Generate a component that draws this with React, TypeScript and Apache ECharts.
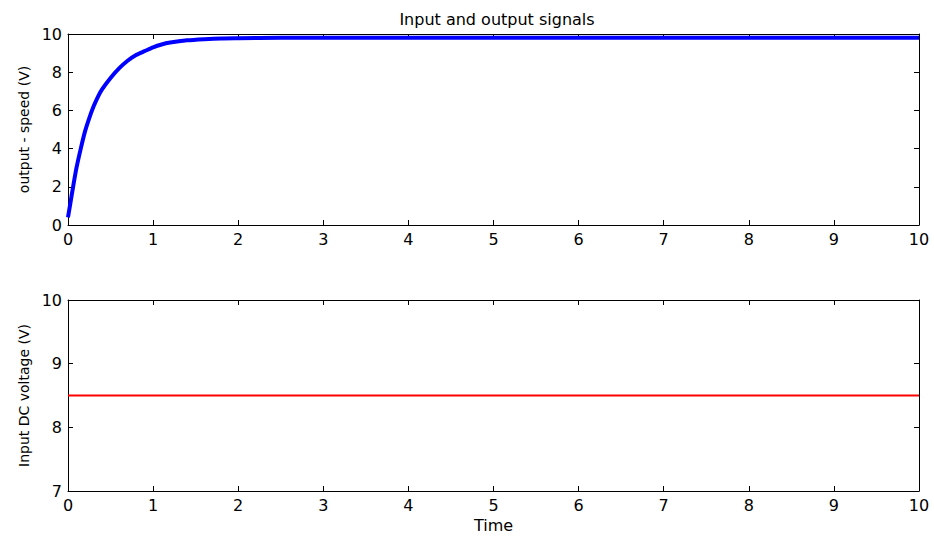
import React, { useEffect, useRef } from "react";
import * as echarts from "echarts";

const timeTicks = [0, 1, 2, 3, 4, 5, 6, 7, 8, 9, 10];
const speedTimes = [0, 0.03, 0.06, 0.1, 0.15, 0.2, 0.25, 0.3, 0.35, 0.4, 0.5, 0.6, 0.7, 0.8, 0.9, 1.0, 1.1, 1.2, 1.4, 1.6, 1.8, 2.0, 2.5, 3, 4, 5, 6, 7, 8, 9, 10];
const speedValues = [0.4, 1.2, 2.0, 3.0, 4.0, 4.9, 5.6, 6.2, 6.7, 7.1, 7.7, 8.2, 8.6, 8.9, 9.1, 9.3, 9.45, 9.55, 9.67, 9.73, 9.77, 9.78, 9.8, 9.8, 9.8, 9.8, 9.8, 9.8, 9.8, 9.8, 9.8];
const inputTimes = [0, 10];
const inputValues = [8.5, 8.5];

const FONT = "DejaVu Sans, Verdana, sans-serif";

export default function App() {
  const ref = useRef<HTMLDivElement>(null);
  useEffect(() => {
    if (!ref.current) return;
    const chart = echarts.init(ref.current, null, { renderer: "svg" });
    const axisLine = { show: true, onZero: false, lineStyle: { color: "#000", width: 1 } };
    const tick = { show: true, inside: true, length: 5, lineStyle: { color: "#000" } };
    const lbl = { color: "#000", fontSize: 16, fontFamily: FONT };
    const mkX = (gi: number, pos: "bottom" | "top", show: boolean) => ({
      type: "value", gridIndex: gi, min: timeTicks[0], max: timeTicks[timeTicks.length - 1], interval: 1, position: pos,
      axisLine, axisTick: tick, splitLine: { show: false },
      axisLabel: show ? { ...lbl, margin: 6 } : { show: false },
    });
    const mkY = (gi: number, pos: "left" | "right", show: boolean, min: number, max: number, interval: number, name?: string) => ({
      type: "value", gridIndex: gi, min, max, interval, position: pos,
      axisLine, axisTick: tick, splitLine: { show: false },
      axisLabel: show ? { ...lbl, margin: 6 } : { show: false },
      name: name || "", nameLocation: "middle", nameGap: 37, nameRotate: 90,
      nameTextStyle: { color: "#000", fontSize: 14, fontFamily: FONT },
    });
    chart.setOption({
      animation: false,
      backgroundColor: "#fff",
      title: {
        text: "Input and output signals", left: 492, top: 6, textAlign: "center",
        textStyle: { color: "#000", fontSize: 16, fontWeight: "normal", fontFamily: FONT },
      },
      grid: [
        { left: 68, right: 15, top: 34, height: 191 },
        { left: 68, right: 15, top: 300, height: 191 },
      ],
      xAxis: [
        mkX(0, "bottom", true),
        mkX(0, "top", false),
        { ...mkX(1, "bottom", true), name: "Time", nameLocation: "middle", nameGap: 26, nameTextStyle: { color: "#000", fontSize: 16, fontFamily: FONT } },
        mkX(1, "top", false),
      ],
      yAxis: [
        mkY(0, "left", true, 0, 10, 2, "output - speed (V)"),
        mkY(0, "right", false, 0, 10, 2),
        mkY(1, "left", true, 7, 10, 1, "Input DC voltage (V)"),
        mkY(1, "right", false, 7, 10, 1),
      ],
      series: [
        {
          type: "line", xAxisIndex: 0, yAxisIndex: 0, showSymbol: false, smooth: 0.2,
          data: speedTimes.map((t, i) => [t, speedValues[i]]),
          lineStyle: { color: "#0000ff", width: 4 },
        },
        {
          type: "line", xAxisIndex: 2, yAxisIndex: 2, showSymbol: false,
          data: inputTimes.map((t, i) => [t, inputValues[i]]),
          lineStyle: { color: "#ff0000", width: 2 },
        },
      ],
    });
    return () => chart.dispose();
  }, []);
  return <div ref={ref} style={{ width: 934, height: 536, position: "absolute", left: 0, top: 0 }} />;
}
